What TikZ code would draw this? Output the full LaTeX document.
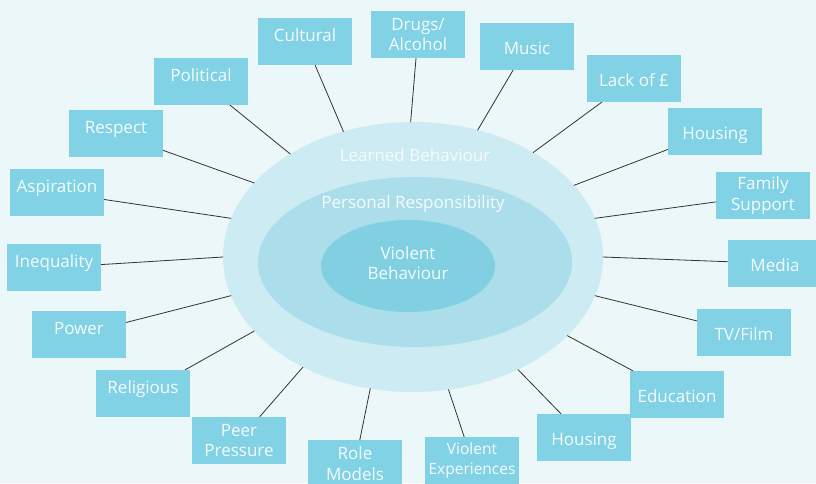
\documentclass[tikz,border=0pt]{standalone}
\usepackage{fontspec}
\setmainfont{Open Sans}
\usepackage{tikz}
\usetikzlibrary{shapes.geometric}
\definecolor{bgBlue}{HTML}{ECF7F9}
\definecolor{ringOuter}{HTML}{CDEBF2}
\definecolor{ringMid}{HTML}{ABDEEA}
\definecolor{ringInner}{HTML}{80D0E2}
\definecolor{boxBlue}{HTML}{82D2E5}
\definecolor{txtWhite}{HTML}{F4FBFD}
\tikzset{
	factor/.style={fill=boxBlue, text=txtWhite, minimum width=94pt, minimum height=47pt, inner sep=0pt, align=center, font=\fontsize{17}{20.5}\selectfont},
	raised/.style={text height=12pt, text depth=13pt},
	level/.style={text height=15pt, text depth=0pt},
	ring/.style={ellipse, inner sep=0pt, outer sep=0pt},
	ringtext/.style={text=txtWhite, inner sep=0pt, align=center, font=\fontsize{17}{20.5}\selectfont},
	spoke/.style={draw=black!80, line width=0.8pt}
}

\begin{document}
\begin{tikzpicture}[x=1pt, y=-1pt, line cap = round]

	\fill[bgBlue] (0,0) rectangle (816,483);
	\useasboundingbox (0,0) rectangle (816,483);

	% the three rings
	\node[ring, fill=ringOuter, minimum width=380pt, minimum height=270pt] (lb) at (413,257) {};
	\node[ring, fill=ringMid, minimum width=314pt, minimum height=170pt] (pr) at (415,262) {};
	\node[ring, fill=ringInner, minimum width=174pt, minimum height=92pt] (vb) at (408,266) {};

	\node[ringtext] (lbt) at (415,155) {Learned Behaviour};
	\node[ringtext] (prt) at (413,204) {Personal Responsibility};
	\node[ringtext] (vbt) at (408,263) {Violent\\Behaviour};

	% left half
	\node[factor, raised] (cult) at (305,41.5) {Cultural};
	\node[factor, raised] (pol) at (201,81.5) {Political};
	\node[factor, raised] (resp) at (116,133.5) {Respect};
	\node[factor, raised] (asp) at (57,192.5) {Aspiration};
	\node[factor, raised] (ineq) at (54,267.5) {Inequality};
	\node[factor, raised] (pow) at (79,334.5) {Power};
	\node[factor, raised] (relig) at (143,393.5) {Religious};
	\node[factor] (peer) at (239,440.5) {Peer\\Pressure};
	\node[factor] (role) at (355,463.5) {Role\\Models};

	% right half
	\node[factor] (drug) at (418,34.5) {Drugs/\\Alcohol};
	\node[factor, level] (mus) at (527,46.5) {Music};
	\node[factor, level] (lack) at (634,78.5) {Lack of £};
	\node[factor, level] (housa) at (715,131.5) {Housing};
	\node[factor] (fam) at (763,195.5) {Family\\Support};
	\node[factor, level] (med) at (775,263.5) {Media};
	\node[factor, level] (tv) at (744,332.5) {TV/Film};
	\node[factor, level] (edu) at (677,394.5) {Education};
	\node[factor, level] (housb) at (584,437.5) {Housing};
	\node[factor, font=\fontsize{15.5}{20}\selectfont] (vexp) at (472,460.5) {Violent\\Experiences};

	% spokes out to the outer ring
	\foreach \n/\a in {cult/119.4, pol/140.7, resp/155.9, asp/168.9, ineq/180.6, pow/192.5, relig/205.1, peer/225.3, role/252.4,
		drug/91.7, mus/63.1, lack/41.0, housa/24.8, fam/12.0, med/0.6, tv/348.2, edu/333.7, housb/313.9, vexp/285.3}
		\draw[spoke] (\n) -- (lb.\a);

\end{tikzpicture}
\end{document}
